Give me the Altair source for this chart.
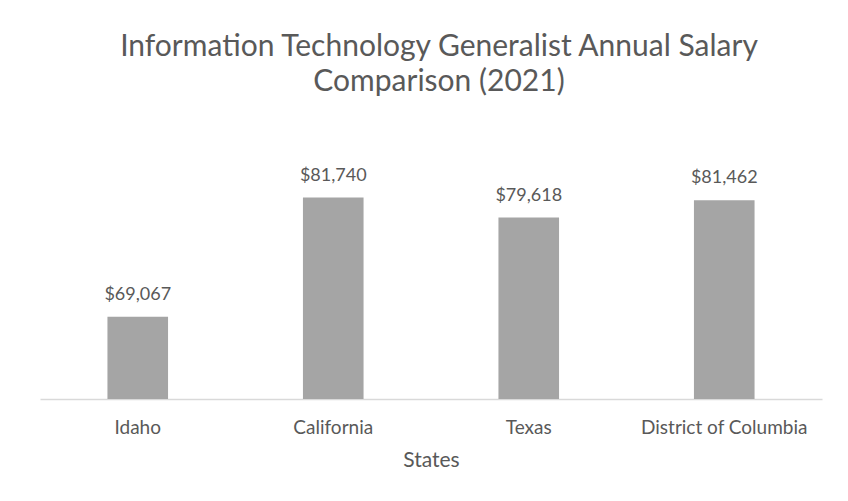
import altair as alt
import pandas as pd

states = ["Idaho", "California", "Texas", "District of Columbia"]
salaries = [69067, 81740, 79618, 81462]
labels = ["$69,067", "$81,740", "$79,618", "$81,462"]

df = pd.DataFrame({"State": states, "Salary": salaries, "Label": labels})

FONT = "Lato"
GREY_TEXT = "#595959"

x_enc = alt.X(
    "State:N",
    sort=states,
    title="States",
    scale=alt.Scale(paddingInner=0.69, paddingOuter=0.345),
    axis=alt.Axis(
        labelAngle=0,
        labelFont=FONT,
        labelFontSize=19,
        labelColor=GREY_TEXT,
        labelBaseline="middle",
        labelPadding=28,
        ticks=False,
        domainColor="#d9d9d9",
        domainWidth=1.5,
        titleFont=FONT,
        titleFontSize=21,
        titleFontWeight="normal",
        titleColor=GREY_TEXT,
        titlePadding=12,
    ),
)
y_enc = alt.Y("Salary:Q", scale=alt.Scale(domain=[60300, 85000]), axis=None)

bars = alt.Chart(df).mark_bar(color="#a5a5a5", clip=True).encode(x=x_enc, y=y_enc)
text = alt.Chart(df).mark_text(
    dy=-22, baseline="middle", font=FONT, fontSize=18, color=GREY_TEXT
).encode(x=alt.X("State:N", sort=states), y=y_enc, text="Label:N")

chart = (
    alt.layer(bars, text)
    .properties(
        width=782,
        height=232,
        autosize=alt.AutoSizeParams(type="none"),
        padding={"left": 32, "top": 159, "right": 18, "bottom": 94},
        title=alt.TitleParams(
            ["Information Technology Generalist Annual Salary", "Comparison (2021)"],
            font=FONT,
            fontSize=30,
            fontWeight="normal",
            color=GREY_TEXT,
            anchor="middle",
            baseline="middle",
            lineHeight=35,
            offset=55,
            dx=8,
        ),
    )
    .configure_view(stroke=None)
)

chart.save("out.html", embed_options={"renderer": "svg", "actions": False})
